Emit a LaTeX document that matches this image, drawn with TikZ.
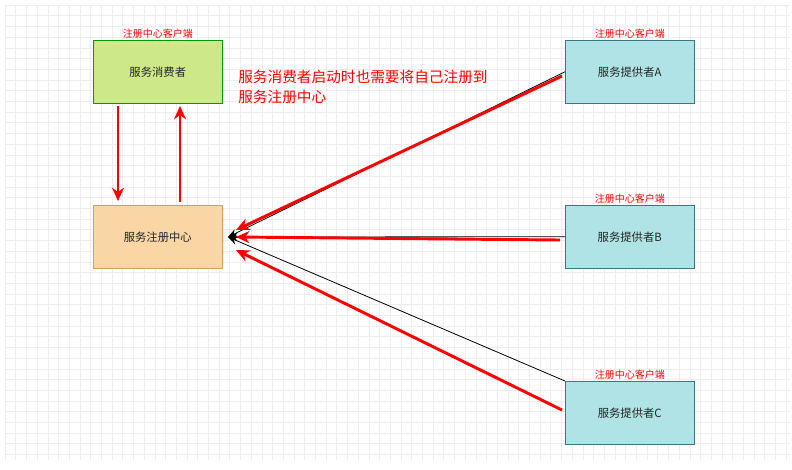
\documentclass[tikz,border=0pt]{standalone}
\usepackage{fontspec}
\setmainfont{Noto Sans CJK SC}
\usetikzlibrary{arrows.meta}
\begin{document}
\begin{tikzpicture}[x=0.75pt,y=-0.75pt,
  box/.style={draw=#1!60!black,minimum width=96.75pt,minimum height=47.25pt,inner sep=0pt,font=\fontsize{8.5}{10}\selectfont,text=black!85},
  lbl/.style={text=red,font=\fontsize{7.5}{9}\selectfont,inner sep=1pt},
  red arrow/.style={draw=red,line width=2.2pt,-{Stealth[length=10pt,width=9pt]}},
  thin arrow/.style={draw=black,line width=0.6pt,-{Stealth[length=7pt,width=6pt]}}]
\useasboundingbox (0,0) rectangle (792,469);
\fill[white] (0,0) rectangle (792,469);
\foreach \x in {5,15.7,...,790} \draw[black!7,line width=0.4pt] (\x,5) -- (\x,460);
\foreach \y in {5,15.7,...,460} \draw[black!7,line width=0.4pt] (5,\y) -- (790,\y);
\node[box=green,fill={rgb,255:red,205;green,232;blue,137},anchor=north west] (cons) at (93,40) {服务消费者};
\node[box=orange,fill={rgb,255:red,250;green,214;blue,165},draw={rgb,255:red,214;green,160;blue,90},anchor=north west] (reg) at (93,205) {服务注册中心};
\node[box=cyan,fill={rgb,255:red,176;green,227;blue,230},draw={rgb,255:red,60;green,120;blue,130},anchor=north west] (pa) at (565,40) {服务提供者A};
\node[box=cyan,fill={rgb,255:red,176;green,227;blue,230},draw={rgb,255:red,60;green,120;blue,130},anchor=north west] (pb) at (565,205) {服务提供者B};
\node[box=cyan,fill={rgb,255:red,176;green,227;blue,230},draw={rgb,255:red,60;green,120;blue,130},anchor=north west] (pc) at (565,381) {服务提供者C};
\node[lbl,anchor=south] (la) at (cons.north) {注册中心客户端};
\node[lbl,anchor=south] (lb) at (pa.north) {注册中心客户端};
\node[lbl,anchor=south] (lc) at (pb.north) {注册中心客户端};
\node[lbl,anchor=south] (ld) at (pc.north) {注册中心客户端};
\node[text=red,font=\fontsize{11}{15}\selectfont,align=left,anchor=north west,inner sep=0pt] (note) at (238,70) {服务消费者启动时也需要将自己注册到\\服务注册中心};
\coordinate (rt) at (228,237);
\draw[thin arrow] (pa.west) -- (rt);
\draw[thin arrow] (pb.west) -- (rt);
\draw[thin arrow] (pc.north west) -- (rt);
\coordinate (a1) at (562,76); \coordinate (a2) at (236,230);
\coordinate (b1) at (560,240); \coordinate (b2) at (236,237);
\coordinate (c1) at (562,410); \coordinate (c2) at (236,250);
\draw[red arrow] (a1) -- (a2);
\draw[red arrow] (b1) -- (b2);
\draw[red arrow] (c1) -- (c2);
\coordinate (d1) at (118,106); \coordinate (d2) at (118,201);
\coordinate (u1) at (180,202); \coordinate (u2) at (180,106);
\draw[red arrow] (d1) -- (d2);
\draw[red arrow] (u1) -- (u2);
\end{tikzpicture}
\end{document}
